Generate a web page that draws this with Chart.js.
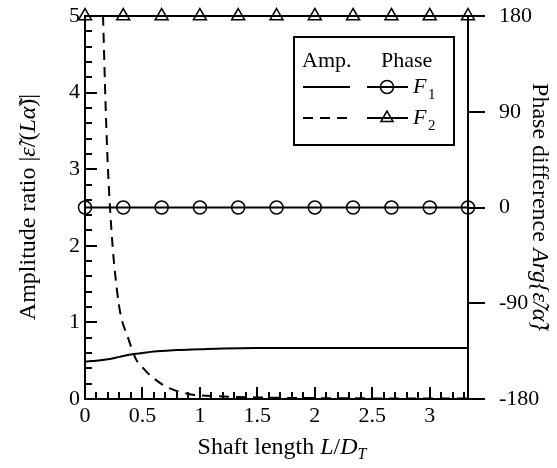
<!DOCTYPE html>
<html>
<head>
<meta charset="utf-8">
<script src="https://cdn.jsdelivr.net/npm/chart.js@4/dist/chart.umd.min.js"></script>
<style>
html, body { margin: 0; padding: 0; background: #fff; }
#wrap { width: 557px; height: 468px; }
</style>
</head>
<body>
<div id="wrap"><canvas id="chart" width="557" height="468"></canvas></div>
<script>
// Amplitude ratio and phase difference vs shaft length

// amplitude, F1 (solid)
const ampF1X = [0, 0.1, 0.2, 0.3, 0.4, 0.5, 0.6, 0.7, 0.8, 1.0, 1.2, 1.5, 2.0, 2.5, 3.0, 3.333];
const ampF1 = [0.49, 0.50, 0.52, 0.55, 0.58, 0.60, 0.62, 0.63, 0.64, 0.65, 0.66, 0.665, 0.665, 0.665, 0.665, 0.665];

// amplitude, F2 (dashed)
const ampF2X = [0.157, 0.18, 0.2, 0.24, 0.28, 0.31, 0.37, 0.44, 0.52, 0.59, 0.72, 0.92, 1.1, 1.5, 2.0, 2.5, 3.0, 3.333];
const ampF2 = [5.0, 3.8, 3.0, 2.0, 1.4, 1.1, 0.82, 0.53, 0.38, 0.28, 0.15, 0.06, 0.04, 0.02, 0.012, 0.008, 0.006, 0.005];

// phase difference (markers)
const phaseX = [0, 0.333, 0.667, 1, 1.333, 1.667, 2, 2.333, 2.667, 3, 3.333];
const phaseF1 = [0, 0, 0, 0, 0, 0, 0, 0, 0, 0, 0];
const phaseF2 = [180, 180, 180, 180, 180, 180, 180, 180, 180, 180, 180];

const xMax = 3.333;
const ampMin = 0, ampMax = 5;
const phaseMin = -180, phaseMax = 180;

const SERIF = "'Liberation Serif', 'Times New Roman', serif";
const F2_DASH = [10, 7];

function toPoints(xs, ys) {
    return xs.map((x, i) => ({ x: x, y: ys[i] }));
}

// draw a line of text made of segments with different styles
function drawRich(ctx, segs, cx, cy, rot) {
    ctx.save();
    ctx.translate(cx, cy);
    ctx.rotate(rot);
    ctx.textBaseline = 'alphabetic';
    ctx.fillStyle = '#000';
    let total = 0;
    segs.forEach(s => {
        ctx.font = (s.italic ? 'italic ' : '') + (s.size || 24) + 'px ' + SERIF;
        s.w = ctx.measureText(s.t).width;
        total += s.w;
    });
    let px = -total / 2;
    segs.forEach(s => {
        ctx.font = (s.italic ? 'italic ' : '') + (s.size || 24) + 'px ' + SERIF;
        ctx.fillText(s.t, px, 8 + (s.dy || 0));
        px += s.w;
    });
    ctx.restore();
}

// keep tick label padding from pushing the plot area around
function fixPad(s) {
    s.paddingTop = 0;
    s.paddingBottom = 0;
    s.paddingLeft = 0;
    s.paddingRight = 0;
}

const decor = {
    id: 'decor',
    afterDraw(chart) {
        const { ctx, chartArea: a, scales } = chart;
        const x = scales.x, y = scales.y, y2 = scales.y2;
        ctx.save();
        ctx.strokeStyle = '#000';
        ctx.lineWidth = 2;
        ctx.beginPath();
        // left axis ticks, inward
        for (let i = 0; i <= 25; i++) {
            const py = Math.round(y.getPixelForValue(i * 0.2));
            const len = i % 5 === 0 ? 12 : 7;
            ctx.moveTo(a.left, py);
            ctx.lineTo(a.left + len, py);
        }
        // bottom axis ticks, inward
        for (let i = 0; i <= 33; i++) {
            const px = Math.round(x.getPixelForValue(i * 0.1));
            const len = i % 5 === 0 ? 12 : 7;
            ctx.moveTo(px, a.bottom);
            ctx.lineTo(px, a.bottom - len);
        }
        // right axis ticks, outward
        y2.ticks.forEach(t => {
            const py = Math.round(y2.getPixelForValue(t.value));
            ctx.moveTo(a.right, py);
            ctx.lineTo(a.right + 17, py);
        });
        ctx.stroke();

        // legend box
        const bx = 294, by = 37, bw = 160, bh = 108;
        ctx.strokeRect(bx, by, bw, bh);
        ctx.fillStyle = '#000';
        ctx.textBaseline = 'middle';
        ctx.font = '22px ' + SERIF;
        ctx.fillText('Amp.', 302, 61);
        ctx.fillText('Phase', 381, 61);

        const rows = [
            { y: 87, dash: [], style: 'circle', r: 6.5, label: '1' },
            { y: 118, dash: F2_DASH, style: 'triangle', r: 7, label: '2' }
        ];
        rows.forEach(r => {
            ctx.lineWidth = 2;
            ctx.setLineDash(r.dash);
            ctx.beginPath();
            ctx.moveTo(303, r.y);
            ctx.lineTo(350, r.y);
            ctx.stroke();
            ctx.setLineDash([]);
            ctx.beginPath();
            ctx.moveTo(367, r.y);
            ctx.lineTo(408, r.y);
            ctx.stroke();
            ctx.lineWidth = 1.5;
            ctx.fillStyle = 'rgba(0,0,0,0)';
            Chart.helpers.drawPoint(ctx, { pointStyle: r.style, radius: r.r, borderWidth: 1.5 }, 387, r.y);
            ctx.fillStyle = '#000';
            ctx.font = 'italic 22px ' + SERIF;
            ctx.fillText('F', 413, r.y);
            ctx.font = '15px ' + SERIF;
            ctx.fillText(r.label, 428, r.y + 8);
        });
        ctx.restore();

        // axis titles
        drawRich(ctx, [
            { t: 'Amplitude ratio |' },
            { t: 'ε\u0303', italic: true },
            { t: '/(' },
            { t: 'Lα\u0303', italic: true },
            { t: ')|' }
        ], 27, 207, -Math.PI / 2);

        drawRich(ctx, [
            { t: 'Phase difference ' },
            { t: 'Arg{ε\u0303/α\u0303}', italic: true }
        ], 541, 207, Math.PI / 2);

        drawRich(ctx, [
            { t: 'Shaft length ' },
            { t: 'L', italic: true },
            { t: '/' },
            { t: 'D', italic: true },
            { t: 'T', italic: true, size: 16, dy: 5 }
        ], 282, 446, 0);
    }
};

Chart.defaults.font.family = SERIF;
Chart.defaults.font.size = 22;
Chart.defaults.color = '#000';

new Chart(document.getElementById('chart'), {
    type: 'scatter',
    data: {
        datasets: [
            {
                label: 'Amp. F1',
                data: toPoints(ampF1X, ampF1),
                yAxisID: 'y',
                showLine: true,
                borderColor: '#000',
                borderWidth: 2,
                pointRadius: 0,
                cubicInterpolationMode: 'monotone'
            },
            {
                label: 'Amp. F2',
                data: toPoints(ampF2X, ampF2),
                yAxisID: 'y',
                showLine: true,
                borderColor: '#000',
                borderWidth: 2,
                borderDash: F2_DASH,
                pointRadius: 0,
                cubicInterpolationMode: 'monotone'
            },
            {
                label: 'Phase F1',
                data: toPoints(phaseX, phaseF1),
                yAxisID: 'y2',
                showLine: true,
                borderColor: '#000',
                borderWidth: 2,
                pointStyle: 'circle',
                pointRadius: 6.5,
                pointBorderWidth: 1.5,
                pointBorderColor: '#000',
                pointBackgroundColor: 'rgba(0,0,0,0)',
                clip: false
            },
            {
                label: 'Phase F2',
                data: toPoints(phaseX, phaseF2),
                yAxisID: 'y2',
                showLine: true,
                borderColor: '#000',
                borderWidth: 2,
                pointStyle: 'triangle',
                pointRadius: 7.5,
                pointBorderWidth: 1.5,
                pointBorderColor: '#000',
                pointBackgroundColor: 'rgba(0,0,0,0)',
                clip: false
            }
        ]
    },
    options: {
        responsive: false,
        animation: false,
        layout: { padding: { top: 16, left: 0, right: 0, bottom: 0 } },
        plugins: {
            legend: { display: false },
            tooltip: { enabled: false }
        },
        scales: {
            x: {
                type: 'linear',
                min: 0,
                max: xMax,
                grid: { display: false, drawTicks: false },
                border: { display: true, color: '#000', width: 2 },
                ticks: {
                    stepSize: 0.5,
                    includeBounds: false,
                    padding: 4,
                    maxRotation: 0,
                    callback: v => String(Number(v.toFixed(2)))
                },
                afterFit: s => { s.height = 69; fixPad(s); }
            },
            y: {
                position: 'left',
                min: ampMin,
                max: ampMax,
                grid: { display: false, drawTicks: false },
                border: { display: true, color: '#000', width: 2 },
                ticks: { stepSize: 1, padding: 5 },
                afterFit: s => { s.width = 85; fixPad(s); }
            },
            y2: {
                position: 'right',
                min: phaseMin,
                max: phaseMax,
                grid: { display: false, drawTicks: false },
                border: { display: true, color: '#000', width: 2 },
                ticks: { stepSize: 90, padding: 31 },
                afterFit: s => { s.width = 89; fixPad(s); }
            }
        }
    },
    plugins: [decor]
});
</script>
</body>
</html>
